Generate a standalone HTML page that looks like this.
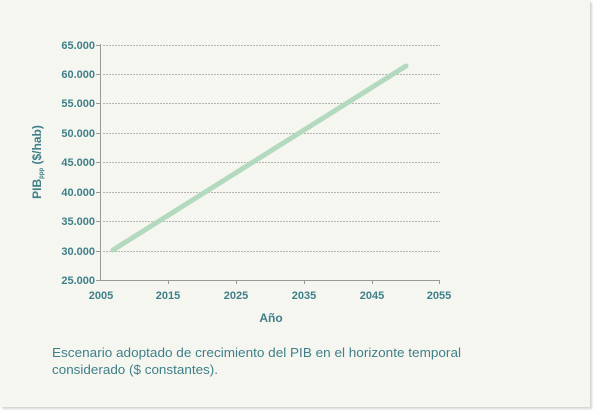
<!DOCTYPE html>
<html><head><meta charset="utf-8"><style>
body{margin:0;width:600px;height:415px;background:#fff;overflow:hidden;font-family:"Liberation Sans",sans-serif}
.panel{position:absolute;left:0;top:0;width:590px;height:407px;background:#f6f6f1;box-shadow:2px 2px 2px #d4d4d0}
</style></head><body><div class="panel"></div>
<svg width="600" height="415" style="position:absolute;left:0;top:0" font-family="Liberation Sans, sans-serif">
<g stroke="#b4b4b0" stroke-width="1" stroke-dasharray="2,1">
<line x1="103" x2="440" y1="45.5" y2="45.5"/><line x1="103" x2="440" y1="74.5" y2="74.5"/>
<line x1="103" x2="440" y1="103.5" y2="103.5"/><line x1="103" x2="440" y1="133.5" y2="133.5"/>
<line x1="103" x2="440" y1="162.5" y2="162.5"/><line x1="103" x2="440" y1="192.5" y2="192.5"/>
<line x1="103" x2="440" y1="221.5" y2="221.5"/><line x1="103" x2="440" y1="251.5" y2="251.5"/>
</g>
<g stroke="#999" stroke-width="1">
<line x1="100.5" y1="44" x2="100.5" y2="281"/><line x1="100" y1="280.5" x2="440" y2="280.5"/>
<line x1="96" x2="100" y1="45.5" y2="45.5"/><line x1="96" x2="100" y1="74.5" y2="74.5"/>
<line x1="96" x2="100" y1="103.5" y2="103.5"/><line x1="96" x2="100" y1="133.5" y2="133.5"/>
<line x1="96" x2="100" y1="162.5" y2="162.5"/><line x1="96" x2="100" y1="192.5" y2="192.5"/>
<line x1="96" x2="100" y1="221.5" y2="221.5"/><line x1="96" x2="100" y1="251.5" y2="251.5"/>
<line x1="96" x2="100" y1="280.5" y2="280.5"/>
<line x1="168.5" x2="168.5" y1="280" y2="284"/><line x1="236.5" x2="236.5" y1="280" y2="284"/>
<line x1="304.5" x2="304.5" y1="280" y2="284"/><line x1="372.5" x2="372.5" y1="280" y2="284"/>
<line x1="439.5" x2="439.5" y1="280" y2="284"/>
</g>
<line x1="113" y1="250" x2="406" y2="66" stroke="#b3d9bf" stroke-width="5" stroke-linecap="round"/>
<g fill="#3e7f88" font-size="11" font-weight="bold" text-anchor="end">
<text x="95" y="49">65.000</text><text x="95" y="78">60.000</text><text x="95" y="107">55.000</text>
<text x="95" y="137">50.000</text><text x="95" y="166">45.000</text><text x="95" y="196">40.000</text>
<text x="95" y="225">35.000</text><text x="95" y="255">30.000</text><text x="95" y="284">25.000</text>
</g>
<g fill="#3e7f88" font-size="11" font-weight="bold" text-anchor="middle">
<text x="101" y="299">2005</text><text x="168" y="299">2015</text><text x="236" y="299">2025</text>
<text x="304" y="299">2035</text><text x="372" y="299">2045</text><text x="439" y="299">2055</text>
<text x="271" y="322" font-size="12">Año</text>
<text transform="translate(41,162) rotate(-90)" font-size="12">PIB<tspan font-size="6" dy="2">ppp</tspan><tspan dy="-2"> ($/hab)</tspan></text>
</g>
<g fill="#3e7f88" font-size="13" style="font-stretch:condensed">
<text x="52" y="357" textLength="409" lengthAdjust="spacingAndGlyphs">Escenario adoptado de crecimiento del PIB en el horizonte temporal</text>
<text x="52" y="374" textLength="166" lengthAdjust="spacingAndGlyphs">considerado ($ constantes).</text>
</g>
</svg></body></html>
